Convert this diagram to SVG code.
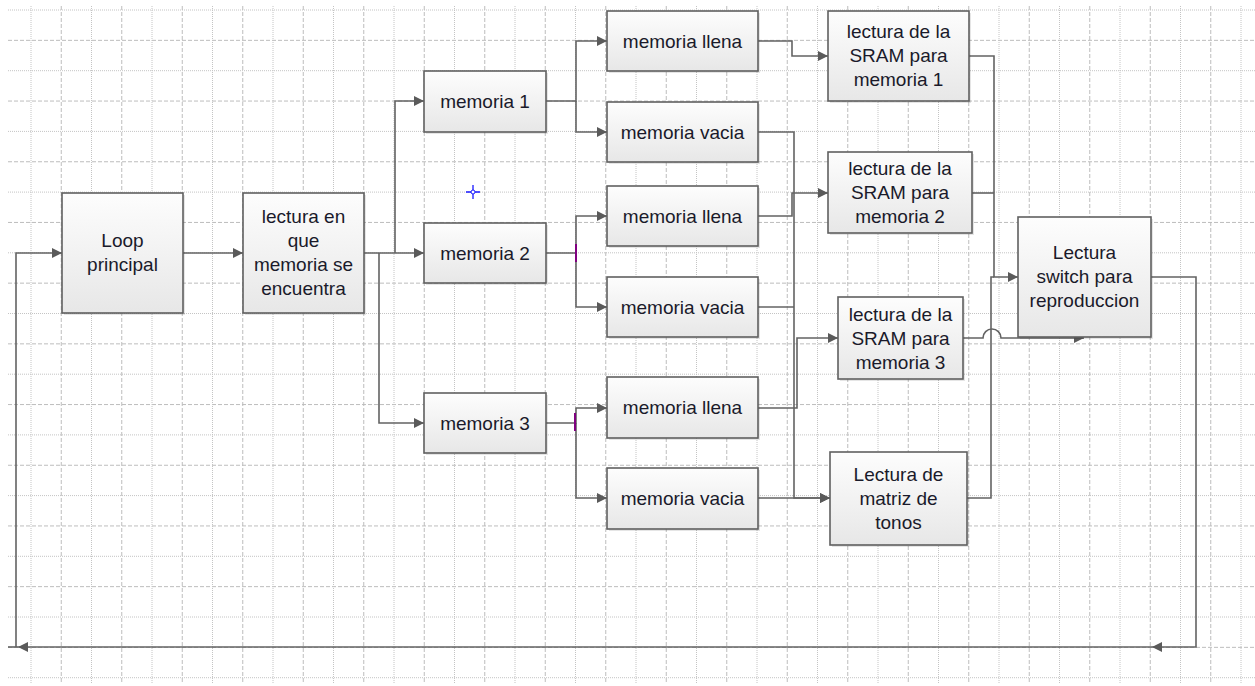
<svg xmlns="http://www.w3.org/2000/svg" width="1255" height="686" viewBox="0 0 1255 686">
<style>
.gd{stroke:#c4c4c4;stroke-width:1;stroke-dasharray:1,1;fill:none}
.gD{stroke:#bdbdbd;stroke-width:1;stroke-dasharray:4,2;fill:none}
.box{fill:url(#bg);stroke:#606060;stroke-width:1.6}
.sh{fill:#000;opacity:0.10}
.t{font-family:"Liberation Sans",Arial,sans-serif;font-size:19px;fill:#1a1a2a;text-anchor:middle}
.c{fill:none;stroke:#636363;stroke-width:1.6}
.a{marker-end:url(#ar)}
</style>
<defs>
<linearGradient id="bg" x1="0" y1="0" x2="0" y2="1">
<stop offset="0" stop-color="#fdfdfd"/>
<stop offset="1" stop-color="#e7e7e7"/>
</linearGradient>
<marker id="ar" viewBox="0 0 10 10" refX="10" refY="5" markerWidth="11" markerHeight="10" markerUnits="userSpaceOnUse" orient="auto">
<path d="M0,0 L10,5 L0,10 z" fill="#5a5a5a"/>
</marker>
</defs>
<rect width="1255" height="686" fill="#ffffff"/>
<g id="grid">
<path class="gd" d="M8,10H1255M8,70.7H1255M8,131.4H1255M8,192.1H1255M8,252.8H1255M8,313.5H1255M8,374.2H1255M8,434.9H1255M8,495.6H1255M8,556.3H1255M8,617H1255M8,677.7H1255"/>
<path class="gD" d="M8,40.35H1255M8,101.05H1255M8,161.75H1255M8,222.45H1255M8,283.15H1255M8,343.85H1255M8,404.55H1255M8,465.25H1255M8,525.95H1255M8,586.65H1255M8,647.35H1255"/>
<path class="gd" d="M31,6V683M91.5,6V683M152,6V683M212.5,6V683M273,6V683M333.5,6V683M394,6V683M454.5,6V683M515,6V683M575.5,6V683M636,6V683M696.5,6V683M757,6V683M817.5,6V683M878,6V683M938.5,6V683M999,6V683M1059.5,6V683M1120,6V683M1180.5,6V683M1241,6V683"/>
<path class="gD" d="M61.25,6V683M121.75,6V683M182.25,6V683M242.75,6V683M303.25,6V683M363.75,6V683M424.25,6V683M484.75,6V683M545.25,6V683M605.75,6V683M666.25,6V683M726.75,6V683M787.25,6V683M847.75,6V683M908.25,6V683M968.75,6V683M1029.25,6V683M1089.75,6V683M1150.25,6V683M1210.75,6V683"/>
</g>
<g id="connectors">
<path class="c a" d="M183,253H243"/>
<path class="c a" d="M364,253H424"/>
<path class="c a" d="M395,253V101H424"/>
<path class="c a" d="M379,253V423H424"/>
<path class="c a" d="M546,101H576V41H607"/>
<path class="c a" d="M576,101V132H607"/>
<path class="c a" d="M546,253H576V216H607"/>
<path class="c a" d="M576,253V307H607"/>
<path class="c a" d="M546,423H576V408H607"/>
<path class="c a" d="M576,423V498H607"/>
<path class="c a" d="M758,41H792V56H828"/>
<path class="c a" d="M758,216H792V193H828"/>
<path class="c a" d="M758,408H797V338H838"/>
<path class="c a" d="M758,132H794V498H830"/>
<path class="c" d="M758,307H794"/>
<path class="c a" d="M758,498H830"/>
<path class="c a" d="M969,56H994V277H1018"/>
<path class="c" d="M972,193H994"/>
<path class="c" d="M967,498H991V277H994"/>
<path class="c a" d="M963,338H983A9,9 0 0 1 1001,338H1084"/>
<path class="c a" d="M1151,277H1196V647H1152"/>
<path class="c a" d="M1152,647H18"/>
<path class="c" d="M18,647H8"/>
<path class="c a" d="M16,647V253H62"/>
<path d="M576,244V262M575,413V431" stroke="#800080" stroke-width="2" fill="none"/>
</g>
<g id="cursor">
<path d="M466,192H480M473,185V199" stroke="#1a1aff" stroke-width="1.3" fill="none"/>
<circle cx="473" cy="192" r="2" fill="#ffffff" stroke="#1a1aff" stroke-width="1"/>
</g>
<g id="loop"><rect class="sh" x="64" y="195" width="121" height="120"/><rect class="box" x="62" y="193" width="121" height="120"/><text class="t" x="122.5" y="247">Loop</text><text class="t" x="122.5" y="271">principal</text></g>
<g id="lectura"><rect class="sh" x="245" y="195" width="121" height="120"/><rect class="box" x="243" y="193" width="121" height="120"/><text class="t" x="303.5" y="223">lectura en</text><text class="t" x="303.5" y="247">que</text><text class="t" x="303.5" y="271">memoria se</text><text class="t" x="303.5" y="295">encuentra</text></g>
<g id="mem1"><rect class="sh" x="426" y="73" width="122" height="61"/><rect class="box" x="424" y="71" width="122" height="61"/><text class="t" x="485" y="108">memoria 1</text></g>
<g id="mem2"><rect class="sh" x="426" y="225" width="122" height="60"/><rect class="box" x="424" y="223" width="122" height="60"/><text class="t" x="485" y="259.5">memoria 2</text></g>
<g id="mem3"><rect class="sh" x="426" y="395" width="122" height="60"/><rect class="box" x="424" y="393" width="122" height="60"/><text class="t" x="485" y="429.5">memoria 3</text></g>
<g id="llena1"><rect class="sh" x="609" y="13" width="151" height="60"/><rect class="box" x="607" y="11" width="151" height="60"/><text class="t" x="682.5" y="47.5">memoria llena</text></g>
<g id="vacia1"><rect class="sh" x="609" y="104" width="151" height="60"/><rect class="box" x="607" y="102" width="151" height="60"/><text class="t" x="682.5" y="138.5">memoria vacia</text></g>
<g id="llena2"><rect class="sh" x="609" y="188" width="151" height="60"/><rect class="box" x="607" y="186" width="151" height="60"/><text class="t" x="682.5" y="222.5">memoria llena</text></g>
<g id="vacia2"><rect class="sh" x="609" y="279" width="151" height="60"/><rect class="box" x="607" y="277" width="151" height="60"/><text class="t" x="682.5" y="313.5">memoria vacia</text></g>
<g id="llena3"><rect class="sh" x="609" y="379" width="151" height="61"/><rect class="box" x="607" y="377" width="151" height="61"/><text class="t" x="682.5" y="414">memoria llena</text></g>
<g id="vacia3"><rect class="sh" x="609" y="470" width="151" height="61"/><rect class="box" x="607" y="468" width="151" height="61"/><text class="t" x="682.5" y="505">memoria vacia</text></g>
<g id="sram1"><rect class="sh" x="830" y="13" width="141" height="90"/><rect class="box" x="828" y="11" width="141" height="90"/><text class="t" x="898.5" y="38">lectura de la</text><text class="t" x="898.5" y="62">SRAM para</text><text class="t" x="898.5" y="86">memoria 1</text></g>
<g id="sram2"><rect class="sh" x="830" y="154" width="144" height="81"/><rect class="box" x="828" y="152" width="144" height="81"/><text class="t" x="900" y="175">lectura de la</text><text class="t" x="900" y="199">SRAM para</text><text class="t" x="900" y="223">memoria 2</text></g>
<g id="sram3"><rect class="sh" x="840" y="299" width="125" height="82"/><rect class="box" x="838" y="297" width="125" height="82"/><text class="t" x="900.5" y="320.5">lectura de la</text><text class="t" x="900.5" y="344.5">SRAM para</text><text class="t" x="900.5" y="368.5">memoria 3</text></g>
<g id="switch"><rect class="sh" x="1020" y="219" width="133" height="120"/><rect class="box" x="1018" y="217" width="133" height="120"/><text class="t" x="1084.5" y="259">Lectura</text><text class="t" x="1084.5" y="283">switch para</text><text class="t" x="1084.5" y="307">reproduccion</text></g>
<g id="matriz"><rect class="sh" x="832" y="454" width="137" height="93"/><rect class="box" x="830" y="452" width="137" height="93"/><text class="t" x="898.5" y="481">Lectura de</text><text class="t" x="898.5" y="505">matriz de</text><text class="t" x="898.5" y="529">tonos</text></g>
</svg>
